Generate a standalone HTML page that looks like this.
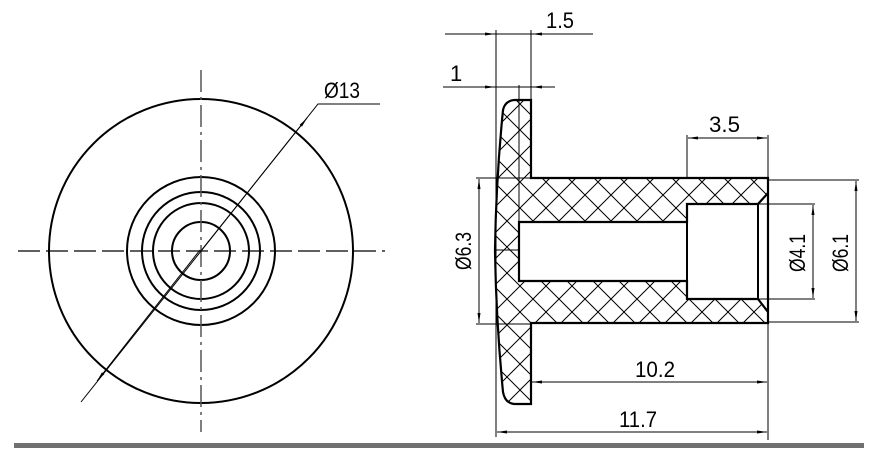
<!DOCTYPE html>
<html><head><style>
html,body{margin:0;padding:0;background:#fff;}
svg{display:block;}
text{font-family:"Liberation Sans",sans-serif;font-size:22px;fill:#000;}
</style></head><body>
<svg width="883" height="465" viewBox="0 0 883 465" xmlns="http://www.w3.org/2000/svg">
<defs>
<pattern id="h" width="26" height="26" patternUnits="userSpaceOnUse">
<path d="M-5,5 L5,-5 M0,26 L26,0 M21,31 L31,21 M-5,21 L5,31 M0,0 L26,26 M21,-5 L31,5" stroke="#000" stroke-width="1"/>
</pattern>
<marker id="a" viewBox="0 0 10 4" refX="10" refY="2" markerWidth="10" markerHeight="4" orient="auto-start-reverse" markerUnits="userSpaceOnUse">
<path d="M0,0.5 L10,2 L0,3.5z" fill="#000"/>
</marker>
</defs>

<!-- left view -->
<g fill="none" stroke="#000" stroke-width="2">
<circle cx="201" cy="251" r="152"/>
<circle cx="201" cy="251" r="74"/>
<circle cx="201" cy="251" r="59"/>
<circle cx="201" cy="251" r="48"/>
<circle cx="201" cy="251" r="29"/>
</g>
<line x1="18" y1="251" x2="385" y2="251" stroke="#000" stroke-width="1.3" stroke-dasharray="22,6"/>
<line x1="201" y1="70" x2="201" y2="432" stroke="#555" stroke-width="1.5" stroke-dasharray="22,5,3,5"/>
<polyline points="81,402 318,104 380,104" fill="none" stroke="#000" stroke-width="1"/>
<line x1="200" y1="252" x2="307" y2="118" stroke="#000" stroke-width="1" marker-end="url(#a)"/>
<line x1="200" y1="250" x2="97" y2="381" stroke="#000" stroke-width="1" marker-end="url(#a)"/>
<text x="324" y="98" textLength="36" lengthAdjust="spacingAndGlyphs">Ø13</text>

<!-- section -->
<path fill-rule="evenodd" fill="url(#h)" stroke="#000" stroke-width="2.2" d="M531,100 L514,100 Q505,101 503,110 Q496,180 495,250 Q496,320 503,392 Q505,403 514,404 L531,404 L531,323 L768,323 L768,178 L531,178 Z M519,222 L687,222 L687,204 L758,204 L768,193 L768,312 L758,299 L687,299 L687,281 L519,281 Z"/>
<line x1="758" y1="204" x2="758" y2="299" stroke="#000" stroke-width="2"/>
<line x1="687" y1="204" x2="687" y2="299" stroke="#000" stroke-width="2"/>
<line x1="768" y1="193" x2="768" y2="312" stroke="#000" stroke-width="2"/>
<line x1="496" y1="250" x2="519" y2="250" stroke="#000" stroke-width="1"/>

<!-- dimensions -->
<g stroke="#000" stroke-width="1" fill="none">
<line x1="496" y1="30" x2="496" y2="437"/>
<line x1="531" y1="30" x2="531" y2="100"/>
<line x1="519" y1="85" x2="519" y2="222"/>
<line x1="445" y1="34" x2="593" y2="34"/>
<line x1="466" y1="34" x2="495" y2="34" marker-end="url(#a)"/>
<line x1="560" y1="34" x2="532" y2="34" marker-end="url(#a)"/>
<line x1="443" y1="87" x2="555" y2="87"/>
<line x1="466" y1="87" x2="495" y2="87" marker-end="url(#a)"/>
<line x1="545" y1="87" x2="532" y2="87" marker-end="url(#a)"/>

<line x1="476" y1="178" x2="531" y2="178"/>
<line x1="476" y1="324" x2="531" y2="324"/>
<line x1="479" y1="179" x2="479" y2="323" marker-start="url(#a)" marker-end="url(#a)"/>

<line x1="687" y1="135" x2="687" y2="178"/>
<line x1="768" y1="135" x2="768" y2="440"/>
<line x1="688" y1="138" x2="767" y2="138" marker-start="url(#a)" marker-end="url(#a)"/>

<line x1="758" y1="204" x2="815" y2="204"/>
<line x1="758" y1="299" x2="815" y2="299"/>
<line x1="813" y1="205" x2="813" y2="298" marker-start="url(#a)" marker-end="url(#a)"/>
<line x1="768" y1="180" x2="859" y2="180"/>
<line x1="768" y1="322" x2="859" y2="322"/>
<line x1="856" y1="181" x2="856" y2="321" marker-start="url(#a)" marker-end="url(#a)"/>

<line x1="532" y1="382" x2="767" y2="382" marker-start="url(#a)" marker-end="url(#a)"/>
<line x1="497" y1="432" x2="767" y2="432" marker-start="url(#a)" marker-end="url(#a)"/>
</g>
<text x="546" y="28" textLength="28" lengthAdjust="spacingAndGlyphs">1.5</text>
<text x="450" y="81">1</text>
<text x="709" y="132" textLength="31" lengthAdjust="spacingAndGlyphs">3.5</text>
<text x="635" y="377" textLength="40" lengthAdjust="spacingAndGlyphs">10.2</text>
<text x="619" y="427" textLength="38" lengthAdjust="spacingAndGlyphs">11.7</text>
<text transform="translate(471,251) rotate(-90)" text-anchor="middle" textLength="38" lengthAdjust="spacingAndGlyphs">Ø6.3</text>
<text transform="translate(805,253) rotate(-90)" text-anchor="middle" textLength="38" lengthAdjust="spacingAndGlyphs">Ø4.1</text>
<text transform="translate(848,253) rotate(-90)" text-anchor="middle" textLength="38" lengthAdjust="spacingAndGlyphs">Ø6.1</text>

<rect x="14" y="443" width="850" height="5" fill="#707070"/>
</svg>
</body></html>
